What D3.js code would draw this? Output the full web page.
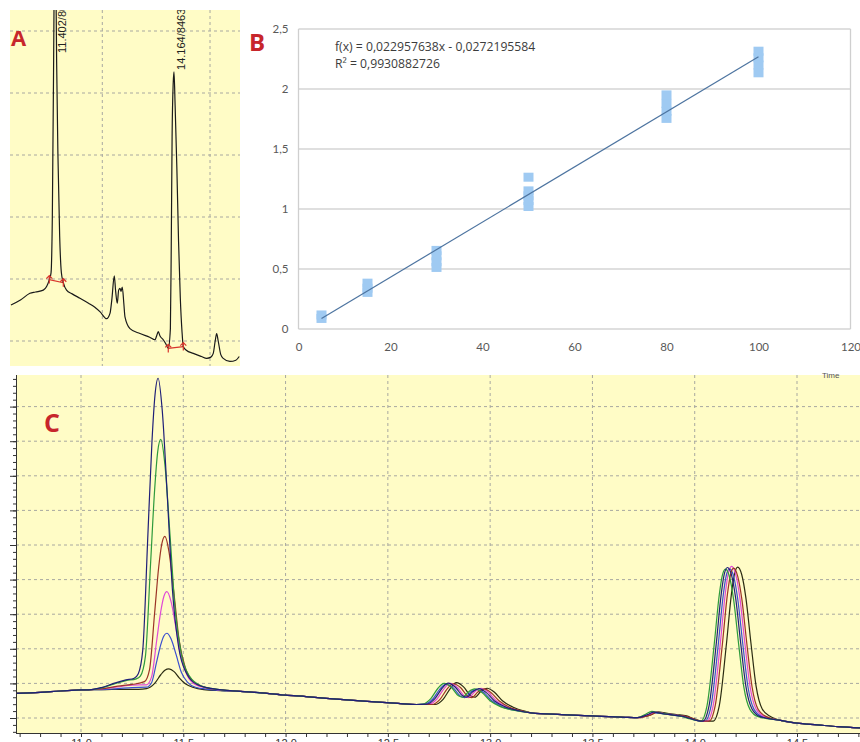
<!DOCTYPE html>
<html>
<head>
<meta charset="utf-8">
<script src="https://cdn.jsdelivr.net/npm/d3@7"></script>
<style>
  body { margin: 0; background: #fff; }
  svg { display: block; }
</style>
</head>
<body>
<div id="chart"></div>
<script>
// ---------- panel A : single chromatogram (time, signal) ----------
var aTrace = [[10.38, 5.8], [10.6, 6.6], [10.82, 7.7], [10.95, 7.9], [11.13, 8.2], [11.27, 9.9], [11.31, 11],
  [11.34, 20], [11.37, 45], [11.39, 65], [11.402, 75], [11.415, 65], [11.44, 45], [11.47, 30], [11.51, 17],
  [11.55, 11], [11.595, 9.4], [11.67, 8.2], [11.8, 7.6], [11.98, 6.9], [12.18, 6.1], [12.32, 5.5], [12.45, 4.7],
  [12.6, 3.6], [12.68, 4.5], [12.72, 6.6], [12.778, 10.5], [12.81, 8], [12.847, 6.1], [12.88, 8.2], [12.91, 8.5],
  [12.935, 8.0], [12.963, 8.7], [13.0, 6], [13.026, 3.9], [13.142, 2.0], [13.374, 1.2], [13.6, 0.6], [13.722, 0.2],
  [13.76, 0.8], [13.799, 1.5], [13.84, 0.8], [13.915, 0.2], [13.97, -0.4], [14.031, -1.2], [14.08, 2], [14.10, 15],
  [14.12, 33], [14.145, 41.5], [14.164, 43.4], [14.19, 38], [14.23, 28], [14.27, 16], [14.31, 7], [14.35, 1.5],
  [14.38, -0.9], [14.45, -1.5], [14.611, -2.0], [14.8, -2.5], [14.922, -2.8], [15.02, -2.6], [15.075, -2.0],
  [15.12, 0.0], [15.154, 1.2], [15.19, 0], [15.25, -2.2], [15.307, -2.8], [15.462, -3.3], [15.6, -3.1], [15.678, -2.5]];
var aPeakTimes = [11.402, 14.164];
var aPeakLabels = ["11.402/80", "14.164/84638"];
var aPeakBounds = [[[11.27, 9.9], [11.595, 9.4]], [[14.031, -1.2], [14.38, -0.9]]];
var aGridX = [12.5, 15.0];
var aGridY = [0, 10, 20, 30, 40, 50];

// ---------- panel B : calibration ----------
var bConc = [5, 15, 30, 50, 80, 100];
var bReplicates = [[0.088, 0.117], [0.305, 0.34, 0.382], [0.513, 0.56, 0.61, 0.655],
  [1.021, 1.07, 1.11, 1.151, 1.265], [1.755, 1.815, 1.88, 1.951], [2.135, 2.2, 2.26, 2.315]];
var bSlope = 0.022957638, bIntercept = -0.0272195584, bR2 = 0.9930882726;
var bXTicks = [0, 20, 40, 60, 80, 100, 120];
var bYTicks = [0, 0.5, 1, 1.5, 2, 2.5];

// ---------- panel C : overlay of six chromatograms (time, signal) ----------
var cBaseStart = [[10.68, 7.1], [10.8, 7.4], [10.9, 7.8], [11.0, 8.1], [11.05, 8.2]];
var cBaseMid = [[11.9, 7.2], [12.0, 6.6], [12.1, 6.2], [12.2, 5.7], [12.4, 4.8], [12.55, 4.2], [12.64, 3.9]];
var cBaseLate = [[13.2, 1.5], [13.35, 1.0], [13.5, 0.6], [13.66, 0.2]];
var cBaseEnd = [[14.42, -0.7], [14.5, -1.5], [14.6, -2.0], [14.7, -2.5], [14.82, -2.9]];
var cPeakA = [
  [[11.10, 8.8], [11.16, 10.0], [11.22, 11.0], [11.26, 11.5], [11.28, 12.8], [11.302, 19.7], [11.327, 53], [11.347, 80], [11.362, 93.5], [11.377, 98.2], [11.397, 89], [11.422, 64], [11.447, 37], [11.477, 20.6], [11.517, 12.8], [11.57, 9.6], [11.65, 8.4], [11.78, 7.7]],
  [[11.10, 8.7], [11.16, 9.8], [11.22, 10.8], [11.27, 11.3], [11.29, 12.1], [11.315, 17.9], [11.34, 44.5], [11.36, 66], [11.375, 77], [11.39, 80.5], [11.41, 73.3], [11.435, 53], [11.46, 31.5], [11.49, 18.6], [11.53, 12.1], [11.59, 9.2], [11.65, 8.4], [11.78, 7.7]],
  [[11.10, 8.4], [11.18, 9.2], [11.25, 9.7], [11.31, 10.5], [11.335, 14.0], [11.36, 30.4], [11.38, 43.7], [11.395, 50.3], [11.41, 52.5], [11.43, 48.1], [11.455, 35.7], [11.48, 22.4], [11.51, 14.5], [11.55, 10.5], [11.61, 8.8], [11.68, 8.2], [11.78, 7.7]],
  [[11.10, 8.4], [11.18, 9.0], [11.25, 9.5], [11.32, 9.6], [11.345, 11.9], [11.37, 22.4], [11.39, 30.8], [11.405, 35.1], [11.42, 36.5], [11.44, 33.7], [11.465, 25.7], [11.49, 17.3], [11.52, 12.2], [11.56, 9.6], [11.62, 8.6], [11.68, 8.1], [11.78, 7.7]],
  [[11.10, 8.2], [11.18, 8.5], [11.25, 8.8], [11.32, 8.9], [11.345, 10.2], [11.37, 16.3], [11.39, 21.2], [11.405, 23.7], [11.42, 24.5], [11.44, 22.9], [11.465, 18.3], [11.49, 13.3], [11.52, 10.4], [11.56, 8.9], [11.62, 8.3], [11.68, 8.0], [11.78, 7.7]],
  [[11.10, 8.2], [11.2, 8.3], [11.28, 8.3], [11.32, 8.5], [11.36, 10.0], [11.39, 12.5], [11.41, 13.8], [11.43, 14.2], [11.455, 13.4], [11.48, 11.6], [11.51, 9.9], [11.55, 8.8], [11.6, 8.2], [11.68, 7.9], [11.78, 7.7]]
];
var cDoublet = [
  [[12.69, 4.0], [12.73, 5.6], [12.765, 8.6], [12.795, 10.1], [12.83, 8.9], [12.865, 6.4], [12.885, 6.0], [12.915, 7.6], [12.945, 8.5], [12.98, 7.4], [13.02, 5.0], [13.07, 3.3], [13.14, 2.1]],
  [[12.67, 4.0], [12.71, 5.6], [12.745, 8.6], [12.775, 10.0], [12.81, 8.9], [12.845, 6.4], [12.865, 6.0], [12.895, 7.6], [12.925, 8.4], [12.96, 7.4], [13.0, 5.0], [13.05, 3.3], [13.12, 2.2]],
  [[12.715, 3.9], [12.755, 5.4], [12.79, 8.4], [12.82, 9.9], [12.855, 8.8], [12.89, 6.3], [12.91, 5.9], [12.94, 7.5], [12.97, 8.4], [13.005, 7.3], [13.045, 4.9], [13.095, 3.1], [13.165, 1.9]],
  [[12.70, 4.0], [12.74, 5.5], [12.775, 8.5], [12.805, 10.0], [12.84, 8.8], [12.875, 6.3], [12.895, 5.9], [12.925, 7.6], [12.955, 8.6], [12.99, 7.5], [13.03, 5.0], [13.08, 3.2], [13.15, 2.0]],
  [[12.68, 4.0], [12.72, 5.5], [12.755, 8.4], [12.785, 9.8], [12.82, 8.7], [12.855, 6.3], [12.875, 5.9], [12.905, 7.5], [12.935, 8.3], [12.97, 7.3], [13.01, 4.9], [13.06, 3.2], [13.13, 2.1]],
  [[12.73, 3.9], [12.77, 5.4], [12.805, 8.5], [12.835, 10.2], [12.87, 9.0], [12.905, 6.4], [12.925, 6.0], [12.955, 7.7], [12.985, 8.6], [13.02, 7.5], [13.06, 5.0], [13.11, 3.2], [13.18, 1.8]]
];
var cSmall = [
  [[13.72, 0.1], [13.77, 1.0], [13.80, 1.7], [13.84, 1.3], [13.89, 0.9], [13.94, 0.5], [13.98, -0.2], [14.02, -0.85]],
  [[13.72, 0.1], [13.76, 1.1], [13.79, 1.9], [13.83, 1.4], [13.88, 1.0], [13.93, 0.5], [13.98, -0.3], [14.02, -0.85]],
  [[13.72, 0.1], [13.785, 0.9], [13.815, 1.6], [13.855, 1.2], [13.905, 0.8], [13.955, 0.5], [13.99, -0.2], [14.03, -0.85]],
  [[13.72, 0.1], [13.78, 1.0], [13.81, 1.7], [13.85, 1.3], [13.90, 0.9], [13.95, 0.5], [13.99, -0.3], [14.025, -0.85]],
  [[13.72, 0.1], [13.775, 0.9], [13.805, 1.5], [13.845, 1.2], [13.895, 0.8], [13.945, 0.4], [13.985, -0.3], [14.02, -0.85]],
  [[13.72, 0.1], [13.79, 1.0], [13.82, 1.8], [13.86, 1.4], [13.91, 1.0], [13.96, 0.6], [13.995, -0.2], [14.035, -0.85]]
];
var cPeakB = [
  [[14.04, -0.9], [14.07, 3.5], [14.105, 21.3], [14.13, 36.0], [14.145, 41.7], [14.16, 43.5], [14.18, 41.3], [14.20, 34.7], [14.225, 21.5], [14.25, 9.2], [14.28, 2.6], [14.32, 0.4]],
  [[14.03, -0.9], [14.06, 3.5], [14.095, 21.1], [14.12, 35.6], [14.135, 41.2], [14.15, 43.0], [14.17, 40.8], [14.19, 34.3], [14.215, 21.2], [14.24, 9.0], [14.27, 2.5], [14.31, 0.4]],
  [[14.07, -0.9], [14.10, 3.5], [14.135, 21.2], [14.16, 35.8], [14.175, 41.4], [14.19, 43.3], [14.21, 41.0], [14.23, 34.5], [14.255, 21.4], [14.28, 9.1], [14.31, 2.5], [14.35, 0.4]],
  [[14.06, -0.9], [14.09, 3.5], [14.125, 21.5], [14.15, 36.2], [14.165, 42.0], [14.18, 43.8], [14.20, 41.6], [14.22, 35.0], [14.245, 21.7], [14.27, 9.3], [14.30, 2.6], [14.34, 0.4]],
  [[14.05, -0.9], [14.08, 3.5], [14.115, 21.2], [14.14, 35.8], [14.155, 41.4], [14.17, 43.2], [14.19, 41.0], [14.21, 34.5], [14.235, 21.4], [14.26, 9.1], [14.29, 2.5], [14.33, 0.4]],
  [[14.09, -0.9], [14.12, 3.5], [14.155, 21.4], [14.18, 36.1], [14.195, 41.8], [14.21, 43.6], [14.23, 41.4], [14.25, 34.8], [14.275, 21.6], [14.30, 9.2], [14.33, 2.6], [14.37, 0.4]]
];
var cColors = ["#1f1f78", "#2e9a3c", "#9c3426", "#e04ad6", "#3a4fd0", "#2b2b12"];
var cGridX = [11.0, 11.5, 12.0, 12.5, 13.0, 13.5, 14.0, 14.5];
var cGridY = [0, 10, 20, 30, 40, 50, 60, 70, 80, 90];

// ---------- drawing ----------
var YELLOW = "#fffcc6";
var RED = "#c7262b";

var svg = d3.select("#chart").append("svg")
  .attr("width", 860).attr("height", 742)
  .style("font-family", "'Liberation Sans', Arial, sans-serif");
svg.append("rect").attr("width", 860).attr("height", 742).attr("fill", "#fff");

var defs = svg.append("defs");
defs.append("clipPath").attr("id", "clipA").append("rect")
  .attr("x", 10).attr("y", 10).attr("width", 230).attr("height", 356);
defs.append("clipPath").attr("id", "clipC").append("rect")
  .attr("x", 16).attr("y", 375).attr("width", 844).attr("height", 358);

// ----- A -----
var xA = d3.scaleLinear().domain([11.402, 14.164]).range([55, 174]);
var yA = d3.scaleLinear().domain([0, 50]).range([341, 31]);

svg.append("rect").attr("x", 10).attr("y", 10).attr("width", 230).attr("height", 356).attr("fill", YELLOW);
var gA = svg.append("g").attr("clip-path", "url(#clipA)");

gA.selectAll(".gx").data(aGridX).join("line")
  .attr("x1", d => xA(d)).attr("x2", d => xA(d)).attr("y1", 10).attr("y2", 366)
  .attr("stroke", "#a8a8a0").attr("stroke-dasharray", "3,3");
gA.selectAll(".gy").data(aGridY).join("line")
  .attr("x1", 10).attr("x2", 240).attr("y1", d => yA(d)).attr("y2", d => yA(d))
  .attr("stroke", "#a8a8a0").attr("stroke-dasharray", "3,3");

// integration baselines and marks
gA.selectAll(".ib").data(aPeakBounds).join("line")
  .attr("x1", d => xA(d[0][0])).attr("y1", d => yA(d[0][1]))
  .attr("x2", d => xA(d[1][0])).attr("y2", d => yA(d[1][1]))
  .attr("stroke", "#d8342c").attr("stroke-width", 1.2);

gA.append("path").datum(aTrace)
  .attr("d", d3.line().x(d => xA(d[0])).y(d => yA(d[1])).curve(d3.curveMonotoneX))
  .attr("fill", "none").attr("stroke", "#1a1a1a").attr("stroke-width", 1.2);

var marks = aPeakBounds.flat();
gA.selectAll(".mk").data(marks).join("path")
  .attr("transform", d => "translate(" + xA(d[0]) + "," + yA(d[1]) + ")")
  .attr("d", "M0,4V-4M-3,-1L0,-4L3,-1")
  .attr("fill", "none").attr("stroke", "#d8342c").attr("stroke-width", 1.2);

gA.selectAll(".pl").data(aPeakTimes).join("text")
  .attr("transform", (d, i) => {
    var top = d3.max(aTrace.filter(p => Math.abs(p[0] - d) < 0.03), p => p[1]);
    var y = Math.max(yA(top), 55) - 2;
    return "translate(" + (xA(d) + 10.5) + "," + y + ") rotate(-90)";
  })
  .attr("font-size", 11).attr("fill", "#222")
  .text((d, i) => aPeakLabels[i]);

svg.append("text").attr("x", 11).attr("y", 46).text("A")
  .attr("font-family", "'Open Sans', sans-serif").attr("font-weight", "bold")
  .attr("font-size", 22).attr("fill", RED);

// ----- B -----
var xB = d3.scaleLinear().domain([0, 120]).range([298.5, 850.5]);
var yB = d3.scaleLinear().domain([0, 2.5]).range([329, 29]);
var commaFmt = d3.formatLocale({decimal: ",", thousands: ".", grouping: [3], currency: ["", ""]}).format("~g");

var gB = svg.append("g").style("font-family", "Lato, 'Open Sans', sans-serif");
gB.selectAll(".hg").data(bYTicks).join("line")
  .attr("x1", xB(0)).attr("x2", xB(120))
  .attr("y1", d => yB(d)).attr("y2", d => yB(d))
  .attr("stroke", "#d4d4d4").attr("stroke-width", 1.3);
gB.append("line").attr("x1", xB(0)).attr("x2", xB(0)).attr("y1", yB(0)).attr("y2", yB(2.5))
  .attr("stroke", "#cfcfcf").attr("stroke-width", 1.3);
gB.append("line").attr("x1", xB(120)).attr("x2", xB(120)).attr("y1", yB(0)).attr("y2", yB(2.5))
  .attr("stroke", "#cfcfcf").attr("stroke-width", 1.3);

var yAxisB = gB.append("g").attr("transform", "translate(" + xB(0) + ",0)")
  .call(d3.axisLeft(yB).tickValues(bYTicks).tickSize(0).tickPadding(10).tickFormat(commaFmt));
var xAxisB = gB.append("g").attr("transform", "translate(0," + yB(0) + ")")
  .call(d3.axisBottom(xB).tickValues(bXTicks).tickSize(0).tickPadding(14).tickFormat(commaFmt));
[yAxisB, xAxisB].forEach(a => {
  a.select(".domain").remove();
  a.selectAll("text").attr("fill", "#595959").attr("font-size", 11.5)
    .attr("font-family", "Lato, 'Open Sans', sans-serif");
});

// replicate markers
var pts = [];
bConc.forEach((c, i) => bReplicates[i].forEach(v => pts.push([c, v])));
gB.selectAll(".pt").data(pts).join("rect")
  .attr("x", d => xB(d[0]) - 5).attr("y", d => yB(d[1]) - 4.5)
  .attr("width", 10).attr("height", 9)
  .attr("fill", "#9fcaf2");

// linear fit
var fitX = [d3.min(bConc), d3.max(bConc)];
gB.append("line")
  .attr("x1", xB(fitX[0])).attr("y1", yB(bSlope * fitX[0] + bIntercept))
  .attr("x2", xB(fitX[1])).attr("y2", yB(bSlope * fitX[1] + bIntercept))
  .attr("stroke", "#4d74a0").attr("stroke-width", 1.2);

gB.append("text").attr("x", 335).attr("y", 51).attr("font-size", 12.2).attr("fill", "#3c3c3c")
  .style("font-family", "'Open Sans', sans-serif")
  .text("f(x) = " + String(bSlope).replace(".", ",") + "x - " + String(-bIntercept).replace(".", ","));
gB.append("text").attr("x", 335).attr("y", 68).attr("font-size", 12.2).attr("fill", "#3c3c3c")
  .style("font-family", "'Open Sans', sans-serif")
  .text("R² = " + String(bR2).replace(".", ","));

svg.append("text").attr("x", 249).attr("y", 51).text("B")
  .attr("font-family", "'Open Sans', sans-serif").attr("font-weight", "bold")
  .attr("font-size", 24).attr("fill", RED);

// ----- C -----
var xC = d3.scaleLinear().domain([11, 14.5]).range([81, 797]);
var yC = d3.scaleLinear().domain([0, 90]).range([718, 406.6]);

svg.append("rect").attr("x", 16).attr("y", 375).attr("width", 844).attr("height", 358).attr("fill", YELLOW);
var gC = svg.append("g").attr("clip-path", "url(#clipC)");
gC.selectAll(".gx").data(cGridX).join("line")
  .attr("x1", d => xC(d)).attr("x2", d => xC(d)).attr("y1", 375).attr("y2", 733)
  .attr("stroke", "#a8a8a0").attr("stroke-dasharray", "3,3");
gC.selectAll(".gy").data(cGridY).join("line")
  .attr("x1", 16).attr("x2", 860).attr("y1", d => yC(d)).attr("y2", d => yC(d))
  .attr("stroke", "#a8a8a0").attr("stroke-dasharray", "3,3");

var traces = cColors.map((c, i) => [].concat(cBaseStart, cPeakA[i], cBaseMid, cDoublet[i],
  cBaseLate, cSmall[i], cPeakB[i], cBaseEnd));
var lineC = d3.line().x(d => xC(d[0])).y(d => yC(d[1])).curve(d3.curveMonotoneX);
var order = [5, 4, 3, 2, 1, 0];
gC.selectAll(".tr").data(order).join("path")
  .attr("d", i => lineC(traces[i]))
  .attr("fill", "none").attr("stroke", i => cColors[i]).attr("stroke-width", 1.2);

// axes of C (tick labels sit at the bottom edge, as in the source image)
var xTicksC = d3.range(107, 149).map(d => d / 10);
var xAxisC = svg.append("g").attr("transform", "translate(0,733)")
  .call(d3.axisBottom(xC).tickValues(xTicksC).tickSize(4).tickPadding(2)
    .tickFormat(d => Math.abs(d * 2 - Math.round(d * 2)) < 1e-6 ? d3.format(".1f")(d) : ""));
xAxisC.select(".domain").remove();
xAxisC.selectAll("line").attr("stroke", "#333");
xAxisC.selectAll("text").attr("font-size", 11).attr("fill", "#333");
svg.append("line").attr("x1", 16).attr("x2", 860).attr("y1", 733.5).attr("y2", 733.5).attr("stroke", "#333");

var yMinor = svg.append("g").attr("transform", "translate(16,0)")
  .call(d3.axisLeft(yC).tickValues(d3.range(-4, 100, 2)).tickSize(3).tickFormat(""));
var yMajor = svg.append("g").attr("transform", "translate(16,0)")
  .call(d3.axisLeft(yC).tickValues(cGridY).tickSize(6).tickFormat(""));
[yMinor, yMajor].forEach(a => { a.select(".domain").remove(); a.selectAll("line").attr("stroke", "#333"); });
svg.append("line").attr("x1", 16.5).attr("x2", 16.5).attr("y1", 375).attr("y2", 733.5).attr("stroke", "#333");

svg.append("text").attr("x", 822).attr("y", 378).attr("font-size", 8).attr("fill", "#555").text("Time");

svg.append("text").attr("x", 44).attr("y", 432).text("C")
  .attr("font-family", "'Open Sans', sans-serif").attr("font-weight", "bold")
  .attr("font-size", 25).attr("fill", RED);
</script>
</body>
</html>
